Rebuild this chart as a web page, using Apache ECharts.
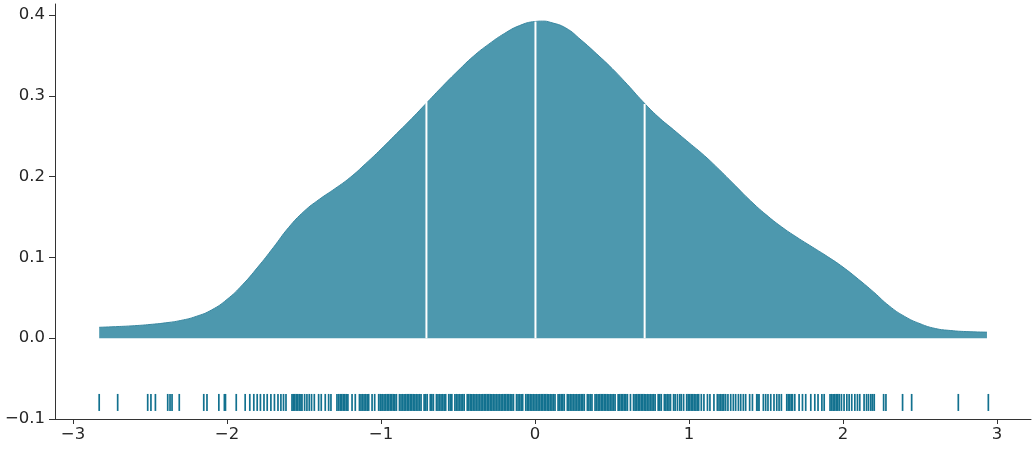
<!DOCTYPE html>
<html>
<head>
<meta charset="utf-8">
<script src="https://cdn.jsdelivr.net/npm/echarts@6/dist/echarts.min.js"></script>
<style>html,body{margin:0;padding:0;background:#fff;}#c{width:1035px;height:450px;}</style>
</head>
<body>
<div id="c"></div>
<script>
// KDE curve
const kdeX = [-2.83,-2.7,-2.6,-2.5,-2.4,-2.3,-2.2,-2.1,-2.0,-1.9,-1.8,-1.7,-1.6,-1.5,-1.4,-1.3,-1.2,-1.1,-1.0,-0.9,-0.8,-0.7,-0.6,-0.5,-0.4,-0.3,-0.2,-0.1,0.0,0.05,0.1,0.2,0.3,0.4,0.5,0.6,0.7,0.8,0.9,1.0,1.1,1.2,1.3,1.4,1.5,1.6,1.7,1.8,1.9,2.0,2.1,2.2,2.3,2.4,2.5,2.6,2.7,2.8,2.935];
const kdeY = [0.0135,0.0145,0.0155,0.017,0.019,0.022,0.027,0.035,0.048,0.066,0.088,0.112,0.137,0.157,0.172,0.185,0.199,0.216,0.234,0.253,0.272,0.292,0.312,0.331,0.349,0.364,0.377,0.387,0.392,0.3925,0.391,0.384,0.369,0.352,0.334,0.314,0.293,0.274,0.258,0.242,0.226,0.208,0.189,0.170,0.153,0.138,0.125,0.113,0.101,0.088,0.073,0.057,0.040,0.027,0.018,0.012,0.0095,0.0082,0.0075];
// quartile lines
const quartileX = [-0.705, 0.003, 0.712];
const quartileY = [0.293, 0.392, 0.290];
// rug values
const rugX = [
-2.83,-2.71,-2.515,-2.494,-2.465,-2.385,-2.37,-2.357,-2.31,-2.151,-2.13,-2.053,-2.017,-2.01,-1.94,
-1.882,-1.852,-1.826,-1.804,-1.783,-1.76,-1.739,-1.715,-1.692,-1.669,-1.65,-1.633,-1.617,
-1.578,-1.57,-1.56,-1.55,-1.54,-1.53,-1.52,-1.513,-1.496,-1.481,-1.466,-1.451,-1.433,-1.405,-1.388,-1.362,-1.34,-1.325,
-1.286,-1.275,-1.265,-1.255,-1.245,-1.235,-1.225,-1.215,-1.188,-1.167,-1.14,-1.13,-1.12,-1.11,-1.10,-1.09,-1.08,-1.058,-1.041,-1.015,-1.005,
-1.00,-0.99,-0.98,-0.97,-0.96,-0.95,-0.94,-0.93,-0.92,-0.91,-0.90,-0.88,-0.87,-0.86,-0.85,-0.84,-0.83,-0.82,-0.81,-0.80,
-0.79,-0.78,-0.77,-0.76,-0.75,-0.74,-0.72,-0.71,-0.70,-0.68,-0.67,-0.66,-0.64,-0.63,-0.62,-0.61,-0.60,
-0.59,-0.58,-0.56,-0.55,-0.54,-0.52,-0.51,-0.50,-0.49,-0.48,-0.47,-0.46,-0.44,-0.43,-0.42,-0.41,-0.40,
-0.39,-0.38,-0.37,-0.36,-0.35,-0.34,-0.33,-0.32,-0.31,-0.30,-0.29,-0.28,-0.27,-0.26,-0.25,-0.24,-0.23,-0.22,-0.21,-0.20,
-0.19,-0.18,-0.17,-0.16,-0.15,-0.14,-0.12,-0.11,-0.10,-0.09,-0.08,-0.06,-0.05,-0.04,-0.03,-0.02,-0.01,
0.00,0.01,0.02,0.03,0.04,0.05,0.06,0.07,0.08,0.09,0.10,0.11,0.12,0.13,0.15,0.16,0.17,0.18,0.19,
0.21,0.22,0.23,0.24,0.25,0.26,0.27,0.28,0.29,0.30,0.31,0.32,0.34,0.35,0.36,0.37,0.39,0.40,
0.41,0.42,0.43,0.44,0.45,0.46,0.47,0.48,0.49,0.50,0.51,0.52,0.54,0.55,0.56,0.57,0.58,0.59,0.60,
0.62,0.64,0.65,0.66,0.67,0.68,0.69,0.70,0.71,0.72,0.73,0.74,0.75,0.76,0.77,0.78,0.80,
0.81,0.82,0.84,0.85,0.86,0.87,0.88,0.90,0.91,0.925,0.94,0.95,0.965,0.985,0.995,1.005,1.015,1.025,1.035,1.045,1.055,1.063,
1.08,1.097,1.12,1.136,1.162,1.184,1.195,1.205,1.215,1.226,1.238,1.253,1.271,1.288,1.303,1.321,1.336,1.353,1.368,1.394,1.412,
1.44,1.448,1.455,1.483,1.498,1.513,1.531,1.552,1.57,1.585,1.6,1.635,1.645,1.655,1.665,1.672,1.687,1.715,1.737,1.758,1.791,1.817,1.838,
1.863,1.878,1.916,1.926,1.936,1.946,1.956,1.966,1.976,1.99,2.007,2.025,2.04,2.057,2.077,2.094,2.109,2.137,2.153,2.166,2.181,2.192,2.203,
2.264,2.279,2.387,2.446,2.749,2.944
];
const xTicks = [-3,-2,-1,0,1,2,3];
const yTicks = [-0.1,0.0,0.1,0.2,0.3,0.4];
const rugLevel = -0.0795;

const chart = echarts.init(document.getElementById('c'), null, {renderer:'canvas'});
const textColor = '#262626';
const font = 'DejaVu Sans';
const minus = s => String(s).replace('-', '\u2212');

const series = [
  {
    type: 'line',
    data: kdeX.map((x, i) => [x, kdeY[i]]),
    smooth: 0.5,
    showSymbol: false,
    lineStyle: {color: '#3a88a1', width: 1},
    areaStyle: {color: '#4d98ae', opacity: 1, origin: 0},
    z: 2,
    silent: true
  },
  {
    type: 'scatter',
    data: rugX.map(x => [x, rugLevel]),
    symbol: 'rect',
    symbolSize: [1.7, 17],
    itemStyle: {color: '#12718f', opacity: 1},
    z: 3,
    silent: true
  }
];
quartileX.forEach((q, i) => {
  series.push({
    type: 'line',
    data: [[q, 0], [q, quartileY[i]]],
    showSymbol: false,
    lineStyle: {color: '#ffffff', width: 2},
    z: 4,
    silent: true
  });
});

chart.setOption({
  animation: false,
  backgroundColor: '#ffffff',
  grid: {left: 55, right: 4, top: 4, bottom: 31, containLabel: false},
  xAxis: {
    type: 'value',
    min: -3.117, max: 3.221,
    splitLine: {show: false},
    axisLine: {show: true, onZero: false, lineStyle: {color: '#333333', width: 1}},
    axisTick: {show: true, length: 5, customValues: xTicks, lineStyle: {color: '#333333'}},
    axisLabel: {customValues: xTicks, margin: 7, color: textColor, fontFamily: font, fontSize: 16.5, formatter: v => minus(v)}
  },
  yAxis: {
    type: 'value',
    min: -0.1, max: 0.4137,
    splitLine: {show: false},
    axisLine: {show: true, onZero: false, lineStyle: {color: '#333333', width: 1}},
    axisTick: {show: true, length: 6, customValues: yTicks, lineStyle: {color: '#333333'}},
    axisLabel: {customValues: yTicks, margin: 10, color: textColor, fontFamily: font, fontSize: 16.5, formatter: v => minus(Number(v).toFixed(1))}
  },
  series: series
});
</script>
</body>
</html>
